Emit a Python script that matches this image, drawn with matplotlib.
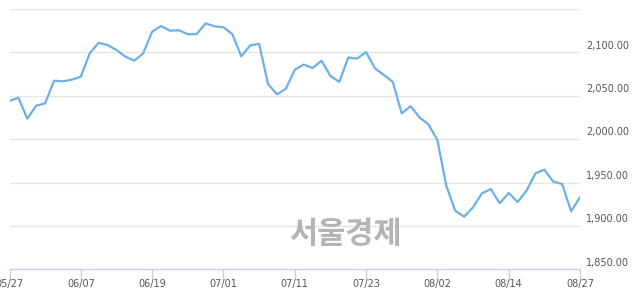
import numpy as np
import matplotlib.pyplot as plt
import matplotlib.transforms as mtransforms

# KOSPI closing values, 2019-05-27 .. 2019-08-27 (trading days)
kospi = [2044.2, 2047.7, 2023.6, 2038.6, 2041.3, 2067.4, 2066.7, 2068.5, 2072.0,
         2099.0, 2111.0, 2108.5, 2102.7, 2095.0, 2090.4, 2099.0, 2123.8, 2130.4,
         2125.0, 2125.5, 2121.0, 2121.0, 2133.5, 2130.0, 2129.0, 2121.0, 2095.5,
         2108.0, 2110.0, 2063.6, 2051.7, 2058.0, 2080.0, 2086.0, 2082.0, 2090.5,
         2072.8, 2066.0, 2094.0, 2092.8, 2100.4, 2081.6, 2074.0, 2066.0, 2029.8,
         2038.0, 2025.0, 2017.0, 1999.0, 1946.4, 1917.5, 1910.6, 1921.5, 1937.6,
         1942.5, 1926.0, 1938.0, 1927.6, 1940.6, 1960.6, 1964.8, 1951.0, 1948.3,
         1916.8, 1933.0]
tick_pos = [0, 8, 16, 24, 32, 40, 48, 56, 64]
tick_labels = ['05/27', '06/07', '06/19', '07/01', '07/11', '07/23', '08/02', '08/14', '08/27']
y_levels = [1850, 1900, 1950, 2000, 2050, 2100]
y_labels = ['1,850.00', '1,900.00', '1,950.00', '2,000.00', '2,050.00', '2,100.00']

fig = plt.figure(figsize=(6.4, 2.94), dpi=100)
ax = fig.add_axes([9.5 / 640, (294 - 269.3) / 294, 570.5 / 640, 260.3 / 294])

for v in [1900, 1950, 2000, 2050, 2100, 2150]:
    ax.axhline(v, color='#e4e4e4', lw=1, zorder=0)

x = np.arange(len(kospi))
ax.plot(x, kospi, color='#6cb0ea', lw=1.6, zorder=3)

ax.set_xlim(0, 64)
ax.set_ylim(1850, 2150)
for s in ['left', 'right', 'top']:
    ax.spines[s].set_visible(False)
ax.spines['bottom'].set_color('#c7d0de')
ax.spines['bottom'].set_linewidth(1)

ax.set_yticks([])
ax.set_xticks(tick_pos)
ax.set_xticklabels(tick_labels)
ax.tick_params(axis='x', direction='out', length=8, width=1, color='#c7d0de',
               labelsize=7, labelcolor='#555555', pad=-1)

trans = mtransforms.blended_transform_factory(ax.transAxes, ax.transData)
for v, lab in zip(y_levels, y_labels):
    ax.text(1.011, v + 2, lab, transform=trans, fontsize=7, color='#555555',
            ha='left', va='bottom', clip_on=False)

fig.text(345 / 640, 1 - 234 / 294, '서울경제', fontsize=22, fontweight='bold',
         color='#b4b4b4', family=['Noto Sans CJK KR', 'DejaVu Sans'],
         ha='center', va='center', zorder=5)

fig.savefig('out.png', dpi=100)
